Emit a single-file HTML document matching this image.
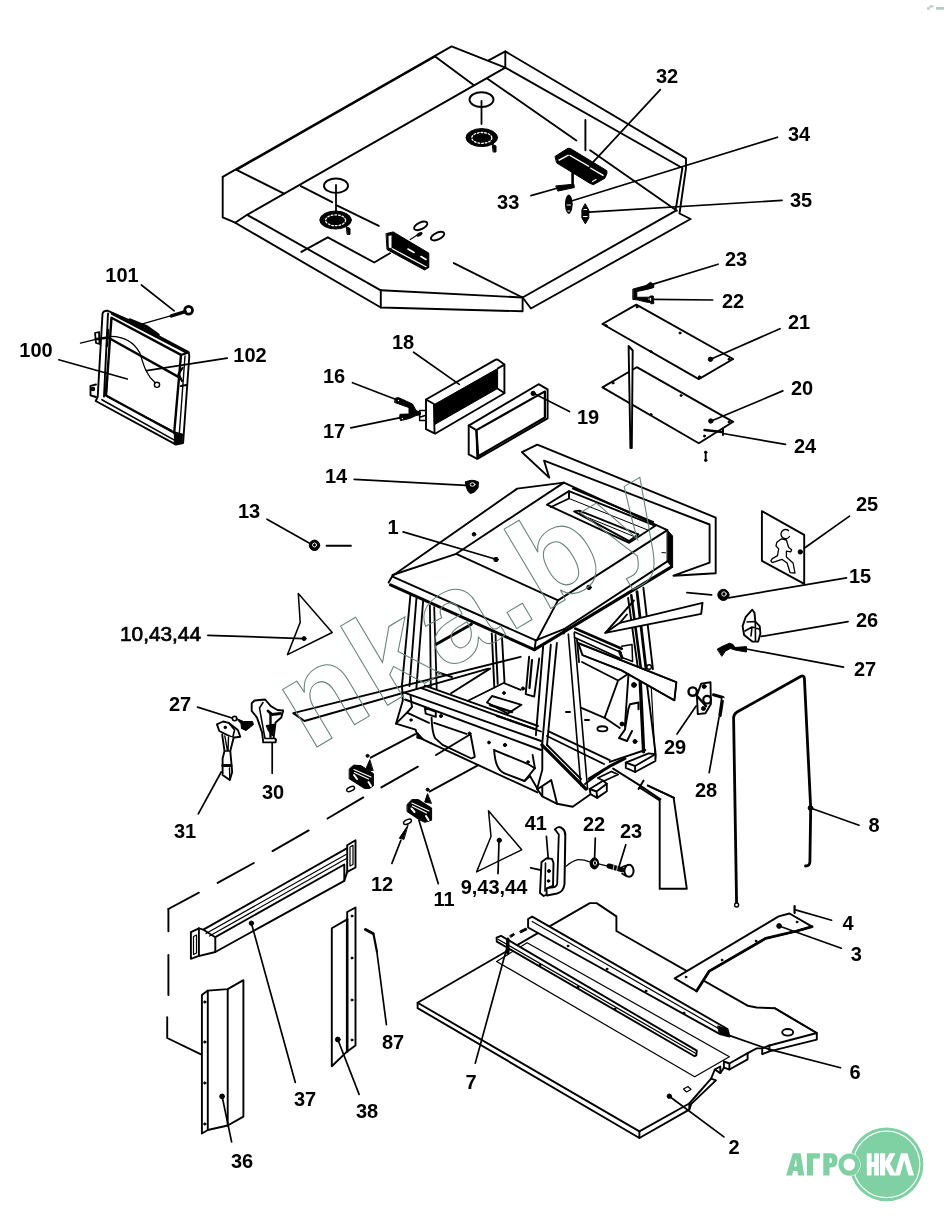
<!DOCTYPE html>
<html><head><meta charset="utf-8">
<style>
html,body{margin:0;padding:0;background:#fff;}
body{width:944px;height:1222px;overflow:hidden;font-family:"Liberation Sans",sans-serif;}
svg{display:block;}
.l{fill:none;stroke:#000;stroke-width:1.9;stroke-linejoin:round;stroke-linecap:round;}
.w{fill:#fff;stroke:#000;stroke-width:1.9;stroke-linejoin:round;stroke-linecap:round;}
.t{fill:none;stroke:#000;stroke-width:2.4;stroke-linejoin:round;stroke-linecap:round;}
.k{fill:#000;stroke:#000;stroke-width:1;stroke-linejoin:round;}
.ld{fill:none;stroke:#000;stroke-width:1.7;stroke-linecap:round;}
text{font-family:"Liberation Sans",sans-serif;font-weight:bold;font-size:20px;fill:#000;text-anchor:middle;}
</style></head><body>
<svg width="944" height="1222" viewBox="0 0 944 1222">
<rect width="944" height="1222" fill="#fff"/>
<g id="roofpanel" class="l">
<!-- outer box -->
<path d="M222.7,176.9 L451.6,46.4 L505.3,67.6"/>
<path d="M488.7,60.4 L505.3,51.4 L686,158.4 L686,168.1 L679.5,213.5 L690.6,219 L530.9,308.5 L522.6,297.5"/>
<path d="M505.3,51.4 L505.3,67.6 L682.4,168 L675.5,210.8 L522.6,297.5 L522.6,311.3 L380.8,307.5 L235.2,222.7 L222.7,217.4 L222.7,176.9"/>
<path d="M236.5,169.8 L435.1,56.5 L473.6,85.1"/>
<path d="M236.5,169.8 L284,193.6"/>
<path d="M235.2,222.7 L247.1,214.8 L505.3,67.6"/>
<path d="M247.1,214.8 L380.8,290.3 L522.6,297.5"/>
<path d="M380.8,290.3 L380.8,307.5"/>
<path d="M453.8,263.1 L522.6,297.5"/>
<!-- interior lines -->
<path d="M300.8,186.1 L332.2,202.2 M337.3,205.6 L378.8,225.9"/>
<path d="M301.4,251.9 L327.8,237.3 L374.2,262.5 L390,253.2"/>
<path d="M487.5,78.7 L576.3,140.5"/>
<path d="M585.4,119.9 L585.4,150.2"/>
<path d="M590.1,150.2 L676.9,210.8"/>
<!-- holes -->
<ellipse cx="336" cy="185.7" rx="12" ry="7.2"/>
<path d="M336,185 L336,212" stroke-width="1.8"/>
<ellipse cx="481.5" cy="99.6" rx="12" ry="7.4"/>
<path d="M481.5,101 L481.5,124" stroke-width="1.8"/>
<!-- grills -->
<g class="k">
<ellipse cx="335.6" cy="220" rx="15.8" ry="9"/>
<ellipse cx="481.8" cy="137.6" rx="15.8" ry="9"/>
<path d="M346.6,226.8 L350,228.5 L350,234.4 L347.5,234.4 Z"/>
<path d="M492.6,144.4 L496,146 L496,152 L493.5,152 Z"/>
</g>
<g stroke="#fff" stroke-width="1.3" fill="none" stroke-dasharray="1.6 2">
<ellipse cx="335.6" cy="220.3" rx="10" ry="5.4"/>
<ellipse cx="481.8" cy="137.9" rx="10" ry="5.4"/>
</g>
<!-- light fixture left -->
<path class="k" d="M386.4,233.6 L393.2,231.9 L428.8,253.1 L428.8,267.5 L424.6,270 L387.3,249.7 Z"/>
<path d="M388.5,236 L391.5,235.2 L391.5,248.5 L388.8,247.5 Z" fill="#fff" stroke="none"/>
<path d="M392.5,248.8 L426,266.8" stroke="#fff" stroke-width="1.3"/>
<path d="M408,249 L414,252.5 M421,256.5 L426,259.5" stroke="#fff" stroke-width="1.6"/>
<ellipse cx="420.7" cy="225.9" rx="7.2" ry="3.4" transform="rotate(-25 420.7 225.9)" stroke-width="1.9"/>
<ellipse cx="437.6" cy="236.1" rx="7.2" ry="3.4" transform="rotate(-25 437.6 236.1)" stroke-width="1.9"/>
<ellipse class="k" cx="419.5" cy="234.4" rx="2.8" ry="1.3" transform="rotate(-28 419.5 234.4)"/>
<path d="M410.2,239.5 L416.9,235.3" stroke-width="1.2"/>
<!-- light fixture right (32) -->
<path class="k" d="M555.3,156.3 L568,148.2 L570.5,148.6 L606.9,170.7 L606.9,173.6 L604.8,178.3 L593.4,184.7 L590,183.4 L556.9,163.1 Z"/>
<path d="M558.2,159.7 L568,154.6 L569.2,155.4 L559.1,160.9 Z M569.7,154.6 L589.6,166 L588.7,166.9 L569.2,155.8 Z M590.4,167.3 L604,174.9 L603.1,176.2 L590,168.6 Z" fill="#fff" stroke="none"/>
<path d="M592.5,181.5 L596,179.5" stroke="#fff" stroke-width="1.2"/>
<!-- 33 screw -->
<path class="k" d="M556.1,185.9 L573.9,184.2 L574.3,187.6 L558.2,191 Z"/>
<path d="M572.6,172.4 L572.6,186.8" stroke-width="2.6"/>
<!-- 34 35 -->
<ellipse class="k" cx="568.8" cy="204.2" rx="3.3" ry="9.2"/>
<path class="k" d="M585.3,204 L588.8,210 L588.8,218 L585.3,223.8 L581.9,218 L581.9,210 Z"/>
<path d="M567.2,205 L570.5,205 M568,211 L569.5,211 M584,209.5 L586.6,209.5 M583.5,216.5 L587,216.5" stroke="#fff" stroke-width="1.2"/>
</g>
<g class="ld">
<path d="M660.3,89.6 L590.1,165.3"/>
<path d="M530.9,195.6 L557,188.3"/>
<path d="M572.2,200.8 L777.5,137.2"/>
<path d="M588.7,212.1 L782,200.4"/>
</g>

<g id="frame100" class="l">
<!-- outer -->
<path class="w" stroke-width="2.6" d="M102.5,314 Q103,310.5 108,310.8 L130.1,320.5 L157.6,335.6 L188.6,352.2 L189.3,356 L183.1,443 L176,444.6 L95.7,401 L97.7,396.9 Z"/>
<!-- tab -->
<path class="w" stroke-width="1.8" d="M96,384.5 L90.5,385.9 L90.5,395.3 L96,397"/>
<circle cx="93" cy="389" r="1.3"/>
<!-- inner opening -->
<path d="M111.5,317.7 L181,354.9 L174.2,432.7 L106,395.5 Z" stroke-width="2.4"/>
<path d="M108,313.5 L104,396.5" />
<path d="M101.9,399.7 L173.5,439.6" stroke-width="1.6"/>
<path d="M107.5,397 L171.5,430" stroke-width="1"/>
<path d="M185,356 L179,438" stroke-width="1.4"/>
<path d="M174.5,433 L176,444 M181,355 L188.5,352.5"/>
<!-- top thick strip/handle -->
<path d="M112,313.5 L186,352" stroke-width="2.6"/>
<path d="M130,320 L146,326.5 L158,335" stroke-width="3.4"/>
<!-- right side details -->
<path class="k" d="M175,432 L182.5,434 L182,443 L174.5,444 Z"/>
<path d="M182.5,368 L178.5,374 L182,381 M181,386 L186.5,385" stroke-width="2.2"/>
<path d="M108,330 L107,346 M107,378 L106,392" stroke-width="2.4"/>
<!-- rod -->
<path d="M80.5,343.2 L95.7,339.3" stroke-width="1.3"/>
<path d="M95.7,339.3 L108,337.5 L179.7,377.6" stroke-width="2.4"/>
<path d="M95,333 L99,332 L99.5,344 L96,343 Z" stroke-width="1.8"/>
<!-- wire -->
<path d="M110.8,336.3 C122,336.5 133,340 139.7,352.8 C143,362 145,374 155,382.5" stroke-width="1.3"/>
<circle cx="157" cy="384.8" r="2.6" stroke-width="1.4"/>
<!-- screw 101 -->
<path d="M142.5,323.9 L171.4,315.7" stroke-width="1.3"/>
<path d="M171.4,315.9 L185.2,311.7" stroke-width="3.4"/>
<circle cx="188.6" cy="310.2" r="3.9" stroke-width="2.8"/>
</g>
<g class="ld">
<path d="M141.4,285 L174.2,310.8"/>
<path d="M58.8,359.8 L127.3,379"/>
<path d="M227.2,358.2 L146.6,370.7"/>
</g>

<g id="filters" class="l">
<!-- 18 -->
<path class="w" stroke-width="1.6" d="M426,399.5 L495.3,359.9 Q497,359 499,360.5 L504.4,364.4 L504.4,393.2 L435,433.7 L426,429.2 Z"/>
<path class="k" d="M434.3,404.5 L497.6,368.6 L497.6,388.5 L434.8,424.4 Z"/>
<path d="M426,399.5 L434,404 L434.5,433 M497.8,368.3 L504.4,364.6 M497.8,388.7 L504.4,393"/>
<!-- 19 -->
<path class="w" stroke-width="1.6" d="M468.7,425.6 L538.6,384.2 L547.6,389.3 L547.6,418.4 L477.3,458.9 L468.7,454.4 Z"/>
<path d="M476.4,430.1 L544.9,391.4 L544.9,417.5 L478.2,456.2 Z" stroke-width="2.2"/>
<path d="M468.7,425.6 L476.4,430.1 L477.3,458.5"/>
<circle class="k" cx="533.2" cy="393.4" r="2.2"/>
<!-- clips 16 17 -->
<path class="k" d="M395.5,398.2 L398.5,397.6 L412.5,404 L416,410.5 L420.5,412.3 L420.5,414.6 L416,415.6 L409.5,418.5 L400.5,420.6 L399.6,417.5 L400,414.3 L409,414 L409,407.6 L395,402.6 Z"/>
<circle cx="398.5" cy="400.5" r="0.7" fill="#fff" stroke="none"/><circle cx="402.3" cy="418.5" r="0.7" fill="#fff" stroke="none"/>
<path d="M419.6,410.4 L425.8,410.4 M419.6,410.8 L419.6,420.6 L425.8,420.6 M420.5,417 L425,415.5" stroke-width="1.5"/>
<!-- 14 plug -->
<path class="k" d="M465.5,482 Q472,478.5 478.5,482 L478,488 Q474.5,493.5 470,493.5 Q466,490 465.5,482 Z"/>
<ellipse cx="472.5" cy="484.5" rx="2.4" ry="1.7" fill="none" stroke="#fff" stroke-width="1"/>
<!-- 13 nut -->
<circle class="k" cx="314.5" cy="545.3" r="5.2"/>
<circle cx="314.5" cy="545" r="2" fill="none" stroke="#fff" stroke-width="0.9"/>
<path d="M326.6,545.8 L350.9,545.8"/>
</g>
<g class="ld">
<path d="M413.6,352.2 L459.3,384.4"/>
<path d="M352.5,382.7 L396,399.5"/>
<path d="M350.8,427.8 L400.5,417.6"/>
<path d="M569.5,411.5 L533.9,393.5"/>
<path d="M354.2,479.3 L466,485.3"/>
<path d="M267,519.2 L310,543.5"/>
</g>

<g id="plates" class="l">
<!-- 20 (lower) -->
<path d="M602.4,387.4 L636.8,367.2 L733.2,421.8 L698.8,443.3 Z"/>
<!-- 21 (upper) -->
<path class="w" d="M602.4,324 L636.3,304.7 L733.2,359 L698.8,379.1 Z"/>
<!-- rod -->
<path class="w" d="M628.6,346 L632.7,350.5 L631.8,448 L630.4,448 Z" stroke-width="1.3"/>
<!-- small holes -->
<g class="k" stroke-width="0.5">
<circle cx="606" cy="325.5" r="1"/><circle cx="637" cy="307" r="1"/><circle cx="729" cy="359.3" r="1"/><circle cx="699.5" cy="377" r="1.2"/><circle cx="651" cy="351.5" r="1"/><circle cx="680" cy="333" r="1"/>
<circle cx="613" cy="383" r="1"/><circle cx="729" cy="422" r="1"/><circle cx="651" cy="414.5" r="1"/><circle cx="681" cy="395.5" r="1"/><circle cx="704.5" cy="436" r="1"/>
<circle cx="710.5" cy="359.3" r="2.2"/><circle cx="710.8" cy="421" r="2.2"/>
</g>
<!-- 23 / 22 clip -->
<path class="k" d="M633.2,289 L646,285.5 L650.5,282.3 L653.8,284.5 L653.8,287.5 L648,289.2 L636.8,291.5 L636.8,297.3 L649.5,297.2 L650.2,296 L653.2,296 L653.8,303.6 L651,303.8 L650.2,302.5 L646,302 L637,299.8 L633.2,299.5 Z"/>
<path d="M648.5,299 L651,299 M650.5,298.2 L650.5,300.5" stroke="#fff" stroke-width="0.8"/>
<!-- 24 screw -->
<path d="M704.5,430 L722,432" stroke-width="2.4"/>
<path d="M723,428.5 L723,435" stroke-width="2"/>
<path d="M705.7,452.5 L705.7,460" stroke-width="1.8"/>
<circle class="k" cx="705.7" cy="452.3" r="1.2"/><circle class="k" cx="705.7" cy="460.3" r="1.2"/>
</g>
<g class="ld">
<path d="M653.3,284.1 L718.1,264.2"/>
<path d="M654,299.3 L712.6,300"/>
<path d="M711.2,359 L780,328.7"/>
<path d="M711.2,421 L782.8,390.9"/>
<path d="M723,433.5 L785.5,444.4"/>
</g>

<g id="cab" class="l">
<!-- direction arrow above cab -->
<path d="M673.5,575.7 L715.7,573.3 L715.7,517.6 L537.3,444.7 L522,452.2 L549.2,477.6 L544.1,460.7 L709.6,524.5 L709.6,562.7 Z"/>
<!-- ===== roof ===== -->
<!-- outer outline -->
<path d="M392.6,575.8 L517.2,488.6 L563.9,482.6 L667.3,530.1"/>
<path d="M392.6,575 L456.2,553.8 L563.9,482.6"/>
<path d="M456.2,553.8 L558,600.4 L667.3,530.1"/>
<path d="M558,600.4 L536.8,640.3"/>
<path d="M392.6,576.7 L535.8,640.3 L563.9,629.2 L667.3,561.4"/>
<path d="M563.9,629.2 L563.9,633.5"/>
<path d="M388.6,582.6 L392.6,575.8"/>
<path d="M390.5,584.8 L534.2,649.6" stroke-width="3"/>
<path d="M534.5,649.6 L670.7,567.4" stroke-width="3"/>
<path d="M535.8,640.3 L534.5,650"/>
<path class="k" d="M667.3,530.1 L672.6,536 L672.6,568 L667.3,561.4 Z"/>
<path d="M662,552.6 L665.5,552.8" stroke-width="1"/>
<!-- hatch -->
<path d="M546.9,504.7 L569,491.1 L655.4,525.8 L629.2,542.8 Z"/>
<path d="M569,491.1 L569,498.5 L551,507"/>
<path d="M569,498.5 L649,530.5" stroke-width="1"/>
<path d="M574.1,511.4 L579.2,510.6 L638.5,534.3 L629.2,541.1 Z"/>
<path d="M579.2,510.6 L580.5,514.5 L634,536.5" stroke-width="1"/>
<path d="M573,488.5 L653,522" stroke-width="2"/>
<!-- dots -->
<g class="k"><circle cx="474" cy="534.3" r="1.8"/><circle cx="496" cy="559.5" r="2.2"/><circle cx="589" cy="587.4" r="2.2"/></g>
<!-- ===== left pillars ===== -->
<path d="M410.4,595.3 L402.2,683 M416.4,598.7 L409.5,686 M423.1,601.3 L416.4,688"/>
<path d="M429.9,605.5 L430.8,687.3 M434.2,607.2 L436.7,689" stroke-width="1.8"/>
<!-- brace -->
<path d="M435.8,644.5 L471.4,624.2" stroke-width="3"/>
<!-- rear middle pillar -->
<path d="M491.8,633.5 L494.3,687.3 M495.5,635 L497.7,683.9 M502,637.7 L504.5,682.2"/>
<!-- wiper long -->
<path d="M520.6,656.8 L293.2,713.1 L304.5,721 L488.4,668.6"/>
<!-- left side base -->
<path d="M401.9,683.9 L402.8,700.8 L396,723.7 L415.5,729.7 L418,736.4 L424,739.8 L430.8,743.2"/>
<path d="M396,723.7 L407,712.7 L429,722.9"/>
<path d="M410.5,695.5 L412,707 L407,712.7"/>
<path class="k" d="M418,733 L424,739.8 L417,738 Z"/>
<!-- sill -->
<path d="M403.6,692.4 L541,741"/>
<path d="M421.4,688.1 L541,731.5" stroke-width="1.8"/>
<path d="M424.8,685.6 L538,726" />
<path d="M405,699.5 L541,750"/>
<!-- base bottom -->
<path d="M430.8,743.2 L537.5,792.4"/>
<!-- arches -->
<path d="M431.6,717.8 Q432,732 435,738.1 L442.6,744.9 L471.4,758.5 L474.8,756.8 L470.6,734.7"/>
<path d="M434.2,722.9 L466.4,733.9"/>
<path d="M494.1,749.7 Q494.8,760 497.1,765.3 Q499.5,771 504.5,773.4 L524.5,781 L534.9,768.2 L532.6,754.9"/>
<path d="M494.8,750.4 L527.5,763.8 L534.9,768.2"/>
<path d="M524.5,781 L530,776 L537,788"/>
<path d="M424.8,707.6 L435.8,711.9 L435.8,716.9 L425.7,713.6 Z"/>
<g class="k"><circle cx="469.5" cy="733.5" r="1.5"/><circle cx="489" cy="742.5" r="1.4"/><circle cx="505" cy="745" r="1.6"/><circle cx="411" cy="720" r="1.2"/><circle cx="441" cy="716" r="1.5"/><circle cx="528" cy="762" r="1.3"/></g>
<!-- floor interior -->
<path d="M437,672 L452,677 M451.1,693.2 L490.1,668.6" />
<path d="M468,700.8 L503.6,683 L520.6,689.8" stroke-width="1.8"/>
<path d="M487,702.5 L492,696 L521.5,704.8 L507.7,713.6 Z"/>
<path d="M490,705 L512,712" stroke-width="2.4"/>
<path d="M497,716 L535,729" stroke-width="2.2"/>
<g class="k"><circle cx="504" cy="693" r="1.4"/><circle cx="523" cy="688.5" r="1.6"/></g>
<!-- inner short pillar -->
<path d="M529.1,656.8 L525.7,694.1 L534.2,696.6 L539.2,658.5"/>
<path d="M532,660 L529.5,688" stroke-width="2.2"/>
<!-- ===== front right pillar ===== -->
<path d="M543.1,646.8 L535.9,735.2 M550.8,644.8 L542.3,743 M556.9,642.9 L547,745"/>
<path d="M542.3,743 L542.3,769.7 L537.1,789"/>
<!-- skirt bottom right -->
<path d="M537.1,789 L542.3,796.4 L557.1,803.8 L572.7,806.8 L590.5,794.2"/>
<path d="M537.8,789 L551.2,780.1 L557.1,803.8 M542.3,786.5 L542.3,796"/>
<!-- A-frame door pillar -->
<path d="M568.3,634 L580.8,785.6 M574.2,633.1 L587.6,789" stroke-width="1.6"/>
<path d="M577,640 L579,662"/>
<!-- thick diagonal -->
<path d="M541.9,744.9 L585.9,789" stroke-width="3.2"/>
<path d="M547,745 L581,779"/>
<!-- door top frame -->
<path d="M575.2,628.5 L621.8,648.8" stroke-width="2.6"/>
<path d="M574.5,632 L621.1,652.6 M574.5,637.5 L619.9,658.3" stroke-width="1.6"/>
<path d="M621.8,646.3 L632,644.4 L632.6,661.5 L626.2,659 L621.5,657.5" stroke-width="1.5"/>
<path d="M619.5,651.5 L622,657.5" stroke-width="3"/>
<!-- roof/eave lower right detail -->
<!-- rear right pillar -->
<path d="M628.1,598 L637.7,666.6"/>
<path d="M631.3,595.4 L640.8,667.9" stroke-width="2.6"/>
<path d="M637,591.6 L645.9,667.9" stroke-width="2.8"/>
<path d="M643.4,587.8 L652.9,669.1"/>
<circle cx="649.1" cy="667" r="2.3" stroke-width="1.4"/>
<path d="M640.2,680.5 L643.6,751.7" stroke-width="3.4"/>
<path d="M646.9,683.9 L655.4,751.7 L655.4,758"/>
<path d="M651,682 L654.8,752.9" stroke-width="1.2"/>
<!-- wedge bar upper -->
<path d="M605.3,632.9 L633.9,600.5"/>
<path class="w" d="M605.3,632.9 L619.9,622.8 L702.5,602.8 L701.2,613.9 Z" stroke-width="1.8"/>
<path d="M619.9,622.8 L627,614.5"/>
<!-- bar 2 -->
<path class="w" d="M578.1,642.9 L582.5,655.1 L621.5,670.3 L674.4,700.3 L676.4,682.2 Z" stroke="none"/>
<path d="M578.5,643.5 L676.4,682.2 L674.4,700.3 L621.5,670.3 L582.5,655.1" stroke-width="1.5"/>
<!-- seat/console -->
<path d="M582,662 L618.1,680.5 L628.3,673.7 M618.1,680.5 L604.6,717.8"/>
<path d="M580.8,707.6 L604.6,717.8 L619.8,728"/>
<path d="M628.5,674 L624.9,726.3"/>
<!-- handle inside -->
<path d="M628.3,709.3 L630,704.2 L638.5,702.5 L638.5,709.3 M628.3,709.3 L624.9,729.7 L619,738 L627,741 L632,731" stroke-width="2"/>
<g class="k"><circle cx="634" cy="685" r="2.4"/><circle cx="622" cy="724" r="2"/><circle cx="635" cy="741.5" r="2"/></g>
<ellipse cx="602.4" cy="728.8" rx="5" ry="2.6"/>
<path d="M566,712 L570,712 M585,720 L589,720" stroke-width="2"/>
<!-- floor edges -->
<path d="M548.6,731.4 L609.7,760.2 M546.9,736 L604,764"/>
<path d="M609.7,761.9 L645.3,750"/>
<!-- foot blocks -->
<path class="w" d="M625.8,762.7 L648.6,753.4 L655.4,754.2 L655.4,761 L635.1,772 L625.8,767.8 Z"/>
<path d="M625.8,762.7 L635.1,766 L655.4,754.2 M635.1,766 L635.1,772"/>
<path class="w" d="M597.8,778 L611.4,771.5 L618.1,774.5 L604,781 Z"/>
<path class="w" d="M589.7,789 L603.1,780.8 L606.8,783.8 L606.8,791.2 L597.2,797.9 L590.5,794.2 Z"/>
<path d="M589.7,789 L596.5,791.5 L606.8,783.8 M596.5,791.5 L597.2,797.9"/>
<path d="M589.3,778.8 L611.4,765.3 L624.9,758.5" stroke-width="3"/>
<path d="M585,784 L604,770" stroke-width="2"/>
<!-- lines to funnel arrow -->
<path d="M613.1,768.6 L640.2,785.6 L660.5,799.2"/>
<path d="M647.8,785.6 L674.1,797.8"/>
<path d="M643.6,780.5 L638.5,789"/>
<!-- funnel arrow -->
<path d="M639.5,787.5 L659.7,800.5 L659.7,888.7 L686.8,888.7 L673.6,797.6 L647.8,785.5"/>
</g>

<g id="rightmid" class="l">
<!-- 25 decal -->
<path class="w" d="M761.9,511.1 L804.2,534.9 L804.2,583.8 L761.9,560.8 Z" stroke-width="1.6"/>
<path d="M788.5,530.5 A4.6,4.6 0 1 0 789.5,536.5" stroke-width="1.4"/>
<path d="M781.2,538.9 L776.8,542.3 L776,546 L778.7,548.9 L777.5,555.6 L772.3,558.6 L770.8,560.8 L772.3,562.6 L781.9,559.3 L787.1,563 L790.1,572.7 L795,573 L793.1,563 L786.4,557.1 L786.4,551.2 L790.8,551.9 L791.6,549.7 L788.6,547.2 L786.4,540 Z" stroke-width="1.3"/>
<circle class="k" cx="800.3" cy="551.9" r="2.2"/>
<!-- 15 plug -->
<circle class="k" cx="723.4" cy="594.9" r="5.6"/>
<circle cx="724" cy="594" r="2.2" fill="none" stroke="#fff" stroke-width="0.9"/>
<path d="M687,592.6 L711.5,594.9"/>
<!-- small bar end left of 15 -->
<!-- 26 -->
<path class="w" d="M752.3,609.7 L745.6,617.2 L742.6,626.1 L744.1,635 L752.3,641.6 L758.2,641.6 L760.4,633.5 L759.7,626.1 L755.3,621.6 L754.5,612.7 Z" stroke-width="2.6"/>
<path d="M747,622 L755,621.5 M755.3,621.6 L755.5,641 M745,631 L752,627 L759,629 M752,627 L751,636" stroke-width="1.6"/>
<!-- 27 bolt right -->
<path class="k" d="M717.5,649 L722,646.5 L729.5,643.2 L733,644.5 L735,647.5 L746.4,646.6 L746.4,652 L735,650 L730.5,648.5 L725.5,651 L722,656 Z"/>
<!-- 29 bracket -->
<path class="w" d="M701.2,683.6 L710.5,682.3 L710.9,703.9 L705.4,713.2 L697.8,714.1 L696.9,695.4 Z" stroke-width="1.8"/>
<circle cx="692.7" cy="691.6" r="4.2" stroke-width="2.4" fill="#fff"/>
<circle cx="707.1" cy="699.7" r="3.8" stroke-width="2.2" fill="#fff"/>
<circle class="k" cx="704.2" cy="686.5" r="2"/><circle class="k" cx="703.5" cy="708.5" r="2"/>
<path d="M697,696 L706,706" stroke-width="2.6"/>
<!-- 28 screw -->
<path d="M713.5,694.8 L723,697.5" stroke-width="3"/>
<path d="M722.6,698 L720,715.5" stroke-width="3.4"/>
<circle cx="723.5" cy="699" r="1.2" fill="#fff" stroke="none"/>
<!-- 8 rod -->
<path d="M736.6,904.5 L733.6,718 Q733.5,714.5 736.6,712.3 L801,676.3 Q804,675 804.4,678.5 L810.7,808.1 L809.9,862 Q809.8,865.8 805.5,866" stroke-width="2.8"/>
<circle cx="736.6" cy="905" r="2" stroke-width="1.4" fill="#fff"/>
<circle class="k" cx="810.5" cy="808" r="2.4"/>
</g>
<g class="ld">
<path d="M804.2,548.2 L849.5,516.1"/>
<path d="M728.6,597.9 L846.5,577.8"/>
<path d="M761.2,636.4 L848,621.6"/>
<path d="M746.4,649 L843.5,667.1"/>
<path d="M696.1,706 L677,734.1"/>
<path d="M719,717.5 L709.2,772.7"/>
<path d="M810.5,808 L859,825.2"/>
</g>

<g id="leftmid" class="l">
<!-- triangle 10,43,44 -->
<path d="M298.3,593.6 L332.2,632.5 L287.5,654.6 L300.2,622.4 Z" stroke-width="1.5"/>
<circle class="k" cx="304.1" cy="638.6" r="2"/>
<!-- 27 left screw -->
<circle cx="234.6" cy="718.6" r="2.2" stroke-width="1.6"/>
<path class="k" d="M236.5,718.5 L243.5,721.5 L252.5,721.5 L253.5,724.5 L246,730.5 L241.5,728.5 L241,724 Z"/>
<!-- 31 handle -->
<path class="w" d="M216.9,724.3 L223.1,721.5 L228.8,722.9 L237.9,730 L240.3,736.7 L232.6,737.7 L226.9,734.8 L219.3,731 Z" stroke-width="2.4"/>
<path d="M228.8,722.9 L234.6,730 L232.6,737.7" stroke-width="1.6"/>
<circle class="k" cx="225.3" cy="727.4" r="1.3"/>
<path class="w" d="M222.2,734.8 L224.5,751 L222.6,758.6 L222.6,774.9 L229.8,780.1 L232.2,772 L230.7,755.8 L230.3,751 L233.6,737.7" stroke-width="2.4"/>
<path d="M224.8,736 L227.5,751 M228.5,737 L228,751 M224.5,751 L230.3,751" stroke-width="1.4"/>
<path d="M222.8,765.5 L231,765.5" stroke-width="3"/>
<path d="M229.5,768 L229.8,779" stroke-width="1.4"/>
<!-- 30 latch -->
<path class="w" d="M251.7,703.3 L254.6,700.5 L265.1,699.5 L270.8,706.2 L277.5,710 L283.2,710.5 L281.3,717.6 L275.6,722.4 L273.6,737.7 L276,739.6 L275.6,742.4 L263.2,742.4 L262.2,732.9 L257,717.6 L251.7,711 Z" stroke-width="2.6"/>
<path d="M263,702.5 L259.5,708 L262,722 L265,738.5 L274,738.5" stroke-width="1.5"/>
<path d="M268,711 L272,714.5 L280.5,713.5" stroke-width="2.8"/>
<path class="k" d="M266.5,725.5 L274.5,724 L272.5,736 L268.5,731 Z"/>
<path d="M270.5,713 L270.5,737" stroke-width="2.4"/>
<!-- lamp left -->
<path class="k" d="M349.5,768.8 L353.8,765.1 L361.2,765.7 L373.4,773.6 L373.4,785.8 L369.7,788.4 L364.4,788.4 L349.5,778.9 Z"/>
<path d="M354,769.5 L371,777 M354.5,772.5 L368.5,779" stroke="#fff" stroke-width="1.2"/>
<path d="M354,775 L357,779 M368.5,782 L371,786" stroke="#fff" stroke-width="2"/>
<circle class="k" cx="367.5" cy="755.8" r="1.5"/>
<path class="k" d="M369.7,760 L365.4,770 L372.8,770.6 Z"/>
<ellipse cx="350.6" cy="789" rx="4.2" ry="2.1" transform="rotate(-25 350.6 789)" stroke-width="1.5"/>
<!-- lamp right (11) -->
<path class="k" d="M407.3,804.3 L412,799.6 L418.4,799.6 L431.6,808 L431.6,820.2 L424.7,822.3 L418.4,819.2 L407.3,811.7 Z"/>
<path d="M412,803 L429,811 M412.5,806 L426.5,813" stroke="#fff" stroke-width="1.2"/>
<path d="M411.5,808.5 L414.5,812 M426,816 L428.5,820" stroke="#fff" stroke-width="2"/>
<circle class="k" cx="427.6" cy="789.6" r="1.5"/>
<path class="k" d="M427.4,794 L424.7,802 L431.1,803.3 Z"/>
<ellipse cx="407.5" cy="821.8" rx="4.2" ry="2.1" transform="rotate(-25 407.5 821.8)" stroke-width="1.5"/>
<path class="k" d="M407.8,825.5 L399.3,838.2 L403.6,839.3 Z"/>
<!-- lamp leaders / dashed -->
<path d="M370.7,757.7 L415.3,734.2"/>
<path d="M429.5,791.6 L478.3,765.1"/>
<path d="M436,755 L470,734.5"/>
<!-- long dashed line -->
<path d="M327.5,818.5 L363.3,797.4 M381.3,787.4 L417.9,766.7"/>
<path d="M435,756 L470,738.5" stroke="none"/>
<!-- triangle 9,43,44 -->
<path d="M488.5,810.8 L521.7,849.8 L476.6,871.9 L491,836.5 Z" stroke-width="1.5"/>
<circle class="k" cx="499.3" cy="840.3" r="2.2"/>
<!-- 41 handle -->
<path d="M555,829.5 Q558.5,825 563,829 Q565.6,831.5 565.3,836 L564.5,884 Q563.5,892 557,893.5 L547,895.5" stroke-width="2"/>
<path d="M555,829.5 L558.8,834.5 L557.2,884 Q556,888 549.5,887.5" stroke-width="1.8"/>
<path class="w" d="M541.5,861.9 L546.7,858.2 L552,858.9 L553.5,863 L553,886 L546.5,888.5 L546.7,894.5 L543.7,896 L540,893 Z" stroke-width="2.4"/>
<path d="M545.5,863 L545,891" stroke-width="1.6"/>
<circle class="k" cx="549" cy="871" r="1.5"/><circle class="k" cx="548.5" cy="881" r="1.3"/>
<path d="M530.8,867.8 L541,870.2"/>
<path d="M566,866.4 Q572,861 577.8,859.7 Q584,859.5 589.7,861.9" stroke-width="1.2"/>
<!-- 22 nut -->
<ellipse class="k" cx="594.4" cy="863.4" rx="4.3" ry="5.6"/>
<ellipse cx="595" cy="863" rx="1.6" ry="2.2" fill="none" stroke="#fff" stroke-width="0.9"/>
<!-- 23 bolt -->
<path d="M599.3,864.1 L609,866.4" stroke-width="1.2"/>
<path d="M609,866 L622.3,869.8" stroke-width="5"/>
<path d="M614,865 L613,870.5 M617.5,866 L616.5,871.5" stroke="#fff" stroke-width="0.8"/>
<ellipse cx="629" cy="870.8" rx="4.6" ry="6" stroke-width="2" fill="#fff"/>
<path d="M622,867 L626,865.5 M622,873.5 L626,876" stroke-width="1.6"/>
</g>
<g class="ld">
<path d="M207.8,635.3 L303.4,638.6"/>
<path d="M197.6,707.1 L232,718"/>
<path d="M221.2,772 L198.3,813.9"/>
<path d="M272.2,743.4 L272.2,773.2"/>
<path d="M418.9,820.2 L438.3,883.7"/>
<path d="M400.9,840.3 L391.9,863.4"/>
<path d="M499,841.4 L498,873.6"/>
<path d="M546.4,836.4 L548.2,858.2"/>
<path d="M595.3,838 L594.6,858.3"/>
<path d="M625.8,844.7 L619,866.8"/>
<path d="M403.1,531.9 L495.9,559.3"/>
</g>

<g id="bottomleft" class="l">
<!-- dashed guide line -->
<path d="M168.4,909 L198.9,892.7 M217.6,882.9 L253.8,863 M272.5,851.1 L308.7,830.4"/>
<path d="M168.4,909 L168.4,931.2 M168.4,955 L168.4,995 M167.2,1017.2 L167.2,1038 L201,1054.3"/>
<!-- beam 37 -->
<path class="w" d="M190.9,932.1 L198.9,928.3 L203.4,929.7 L347.2,848.2 L347.2,845.2 L355.5,840.2 L355.5,867.5 L347.2,871.9 L344.3,880.8 L215.3,952 L197.5,956.4 L190.9,958.8 Z" stroke-width="1.6"/>
<path d="M203.4,929.7 L215.3,937.2 L215.3,952 M215.3,937.2 L344.3,864.5 L344.3,880.8"/>
<path d="M206,933.5 L346,854.5 M209.5,936 L346.5,858.5" stroke-width="1.2"/>
<path d="M198.9,928.3 L198.9,955.5 M347.2,848.2 L347.2,871.9"/>
<path d="M193.5,936.5 L196.5,935 L196.5,953 L193.5,954.5 Z M350,847 L353,845.3 L353,864.5 L350,866 Z" stroke-width="1.2"/>
<circle class="k" cx="251.4" cy="923.2" r="2.2"/>
<!-- panel 36 -->
<path class="w" d="M201.9,995 L207.8,990.6 L227.7,989.1 L243.4,980.2 L243.4,1116.6 L227.7,1125.5 L207.8,1130 L201.9,1133.5 Z" stroke-width="1.6"/>
<path d="M207.8,990.6 L207.8,1130 M227.7,989.1 L227.7,1125.5"/>
<g class="k" stroke-width="0.4"><circle cx="204.8" cy="1002" r="1.1"/><circle cx="204.8" cy="1042" r="1.1"/><circle cx="204.8" cy="1083" r="1.1"/><circle cx="204.8" cy="1124" r="1.1"/></g>
<circle class="k" cx="222.1" cy="1096.4" r="2.4"/>
<!-- panel 38 -->
<path class="w" d="M331.8,928.3 L347.2,919.4 L347.2,912 L355.5,907.5 L355.5,1045.4 L347.2,1051.4 L331.8,1066.2 Z" stroke-width="1.5"/>
<path d="M347.2,919.4 L347.2,1051.4" stroke-width="2.6"/>
<g class="k" stroke-width="0.4"><circle cx="352" cy="916" r="1"/><circle cx="352" cy="958" r="1"/><circle cx="352" cy="1000" r="1"/><circle cx="352" cy="1040" r="1"/></g>
<circle class="k" cx="337.8" cy="1039.5" r="2.4"/>
<!-- 87 screw -->
<path d="M365.5,929.5 L373,933.5" stroke-width="3"/>
<path d="M373.5,934 L376.9,951.5" stroke-width="2.2"/>
</g>
<g class="ld">
<path d="M251.4,923.2 L295.3,1082.5"/>
<path d="M222.1,1096.4 L231.6,1141.8"/>
<path d="M337.8,1039.5 L359.1,1094.4"/>
<path d="M376.9,952 L386.4,1024.7"/>
</g>

<g id="floor" class="l">
<!-- mat 2 outline -->
<path class="w" d="M417.6,1002.7 L589.8,903.1 L596.6,903.1 L616.4,916.4 L616.4,931 L747.6,1005.7 L756.7,1007.5 L774.9,1008.3 L816.8,1033 L816.8,1039.6 L769.4,1051.3 L762.2,1054.2 L762.2,1048.4 L756.7,1048.4 L747.6,1053.1 L747.6,1059.3 L729.4,1069.5 L723.9,1067.7 L720.3,1073.1 L714.8,1069.5 L711.1,1078.6 L715.9,1080.4 L691.1,1104.1 L689.3,1109.6 L639.4,1138 L417.6,1008.1 Z"/>
<path d="M417.6,1002.7 L639.4,1131.4 L689.3,1103.5 L711.1,1078.6"/>
<path d="M639.4,1131.4 L639.4,1138 M689.3,1103.5 L689.3,1109.6"/>
<path d="M774.9,1008.3 L816.8,1033 L769.4,1045.5 L762.2,1048.4"/>
<path d="M769.4,1045.5 L769.4,1051.3"/>
<path d="M747.6,1053.1 L729.4,1063.5 L723.9,1061.5 L723.9,1067.7 M729.4,1063.5 L729.4,1069.5"/>
<path d="M714.8,1069.5 L720.3,1066.5 L720.3,1073.1"/>
<ellipse cx="787.7" cy="1032.3" rx="5.5" ry="3.3"/>
<!-- inner opening -->
<path d="M496.6,961.4 L527.1,942.7 L729.4,1056.7 L694.7,1076.8 Z" stroke-width="1.2"/>
<!-- upper bar -->
<path class="w" d="M528.1,919 L532.2,916.6 L727.5,1029 L729.5,1036.5 L720,1034.2 L528.1,927.5 Z" stroke-width="1.4"/>
<path d="M532.2,921.5 L722,1030.5" stroke-width="1.2"/>
<path class="k" d="M718,1026 L727.5,1029.5 L729,1036.5 L719.5,1033.5 Z"/>
<!-- bar 7 -->
<path class="w" d="M496.6,937.6 L501,935.8 L696.8,1050.6 L696.3,1055.4 L694.6,1056.2 L496.8,941.6 Z" stroke-width="1.5"/>
<path d="M498,939.3 L695.5,1053.2" stroke-width="1.3"/>
<!-- bolts -->
<path d="M507.8,939.3 L507.8,952.9" stroke-width="3.4"/>
<path class="k" d="M510,935.5 L513.5,933.5 L514.5,935 L511,937.2 Z"/>
<path class="k" d="M520,931 L526,928 L526.8,929.8 L521,932.8 Z"/>
<!-- small holes on bars -->
<g class="k" stroke-width="0.3"><circle cx="568" cy="946" r="0.9"/><circle cx="607" cy="969" r="0.9"/><circle cx="646" cy="991" r="0.9"/><circle cx="684" cy="1013" r="0.9"/><circle cx="540" cy="965" r="0.9"/><circle cx="578" cy="987" r="0.9"/><circle cx="615" cy="1009" r="0.9"/></g>
<!-- hole + dot 2 -->
<path d="M683.5,1089 L688,1086.5 L691,1089.5 L686.5,1092 Z" stroke-width="1.2"/>
<circle class="k" cx="669.3" cy="1096.2" r="2.2"/>
<!-- plate 3 -->
<path class="w" d="M674.7,978.4 L778.6,916.4 L789.5,913.5 L812.1,926.6 L796.8,931 L765.8,938.3 L709.3,971.1 L696.6,991.1 Z"/>
<path d="M812.1,926.6 L796.8,931 L765.8,938.3 L709.3,971.1 L696.6,991.1" stroke-width="2.8"/>
<circle class="k" cx="779.1" cy="926" r="2.4"/>
<g class="k" stroke-width="0.3"><circle cx="686" cy="977" r="0.9"/><circle cx="722" cy="960" r="0.9"/><circle cx="756" cy="941" r="0.9"/><circle cx="797" cy="922" r="0.9"/></g>
<!-- pin 4 -->
<path d="M794.6,906 L794.6,913" stroke-width="2.2"/>
</g>
<g class="ld">
<path d="M507.8,944.4 L475.3,1063.1"/>
<path d="M669.3,1096.2 L723.9,1136.9"/>
<path d="M727.5,1034.9 L769.4,1049.4 L840.5,1067.7"/>
<path d="M794.6,909.6 L831.6,920.2"/>
<path d="M779.1,926 L841.3,948.2"/>
</g>

<g id="logo">
<circle cx="886.5" cy="1164.4" r="36.9" fill="#7fd0a2"/>
<circle cx="886.5" cy="1164.4" r="33.3" fill="none" stroke="#fff" stroke-width="1.2"/>
<!-- O with white halo -->
<ellipse cx="849.3" cy="1164.6" rx="11.3" ry="11.6" fill="#fff"/>
<ellipse cx="849.3" cy="1164.6" rx="8.3" ry="8.6" fill="none" stroke="#7fd0a2" stroke-width="5"/>
<g fill="#7fd0a2">
<!-- А -->
<path d="M786.2,1175.4 L792.8,1153.3 L800.6,1153.3 L804.3,1175.4 L798,1175.4 L797.4,1171 L793.2,1171 L792.2,1175.4 Z M794.2,1166.5 L796.9,1166.5 L796,1158.5 Z" fill-rule="evenodd"/>
<!-- Г -->
<path d="M806.9,1153.3 L819.8,1153.3 L819.8,1158.5 L813.2,1158.5 L813.2,1175.4 L806.9,1175.4 Z"/>
<!-- Р -->
<path d="M823.3,1153.3 L831.5,1153.3 Q837.5,1153.3 837.5,1160.3 Q837.5,1167.5 831.5,1167.5 L829.5,1167.5 L829.5,1175.4 L823.3,1175.4 Z M829.5,1158 L829.5,1163 L830.5,1163 Q832,1163 832,1160.5 Q832,1158 830.5,1158 Z" fill-rule="evenodd"/>
</g>
<g fill="#fff">
<!-- Н -->
<path d="M866.8,1153.3 L871.6,1153.3 L871.6,1162 L874.2,1162 L874.2,1153.3 L878.9,1153.3 L878.9,1175.4 L874.2,1175.4 L874.2,1167 L871.6,1167 L871.6,1175.4 L866.8,1175.4 Z"/>
<!-- К -->
<path d="M880,1153.3 L885.2,1153.3 L885.2,1161.5 L889.5,1153.3 L895.5,1153.3 L890,1163.5 L896,1175.4 L890,1175.4 L885.2,1166 L885.2,1175.4 L880,1175.4 Z"/>
<!-- А -->
<path d="M894.5,1175.4 L901,1153.3 L907.5,1153.3 L914,1175.4 L908.5,1175.4 L904.2,1160 L900,1175.4 Z"/>
</g>
</g>

<defs><filter id="nf" x="0" y="0" width="944" height="1222" filterUnits="userSpaceOnUse"><feOffset dx="0" dy="0"/></filter></defs>
<g id="labels" filter="url(#nf)">
<text x="667" y="83">32</text>
<text x="799" y="141">34</text>
<text x="801" y="207">35</text>
<text x="508.2" y="209">33</text>
<text x="736" y="266">23</text>
<text x="733" y="308">22</text>
<text x="799" y="329">21</text>
<text x="802" y="395">20</text>
<text x="805" y="453">24</text>
<text x="122" y="282">101</text>
<text x="36" y="357">100</text>
<text x="250" y="362">102</text>
<text x="403" y="349">18</text>
<text x="334" y="383">16</text>
<text x="334" y="438">17</text>
<text x="588" y="424">19</text>
<text x="336" y="483">14</text>
<text x="249" y="518">13</text>
<text x="393" y="534">1</text>
<text x="867" y="511">25</text>
<text x="860" y="583.2">15</text>
<text x="867" y="627">26</text>
<text x="865" y="676">27</text>
<text x="160.5" y="641" textLength="81" lengthAdjust="spacingAndGlyphs" style="font-weight:normal;stroke:#000;stroke-width:0.7px">10,43,44</text>
<text x="180" y="711">27</text>
<text x="273" y="799">30</text>
<text x="185" y="838">31</text>
<text x="675" y="754">29</text>
<text x="706" y="797">28</text>
<text x="874" y="832">8</text>
<text x="382" y="891">12</text>
<text x="444" y="906">11</text>
<text x="494" y="894">9,43,44</text>
<text x="535.8" y="830">41</text>
<text x="594" y="831">22</text>
<text x="631" y="838">23</text>
<text x="848" y="930">4</text>
<text x="856.4" y="961">3</text>
<text x="855" y="1079">6</text>
<text x="734" y="1154">2</text>
<text x="471" y="1089">7</text>
<text x="393" y="1049">87</text>
<text x="305" y="1106">37</text>
<text x="367" y="1118">38</text>
<text x="242" y="1168">36</text>
</g>

<g id="watermark">
<text x="0" y="0" transform="translate(309.4 751.6) rotate(-30.7)" style="font-size:127px;font-weight:bold;text-anchor:start;fill:none;stroke:#64857a;stroke-width:1.05;letter-spacing:4.5px">nka.by</text>
<path d="M927.1,9.8 L927.1,7.2 L929.4,7.2 L929.4,6.2 L930,5.2 L932.8,5.2 L933.9,6.4 L932.8,7.6 L929.8,7.6 L929.8,9.8 Z M936,7 L944,7 L944,9.7 L936,9.7 Z" fill="#b7ccc5"/>
</g>

</svg>
</body></html>
